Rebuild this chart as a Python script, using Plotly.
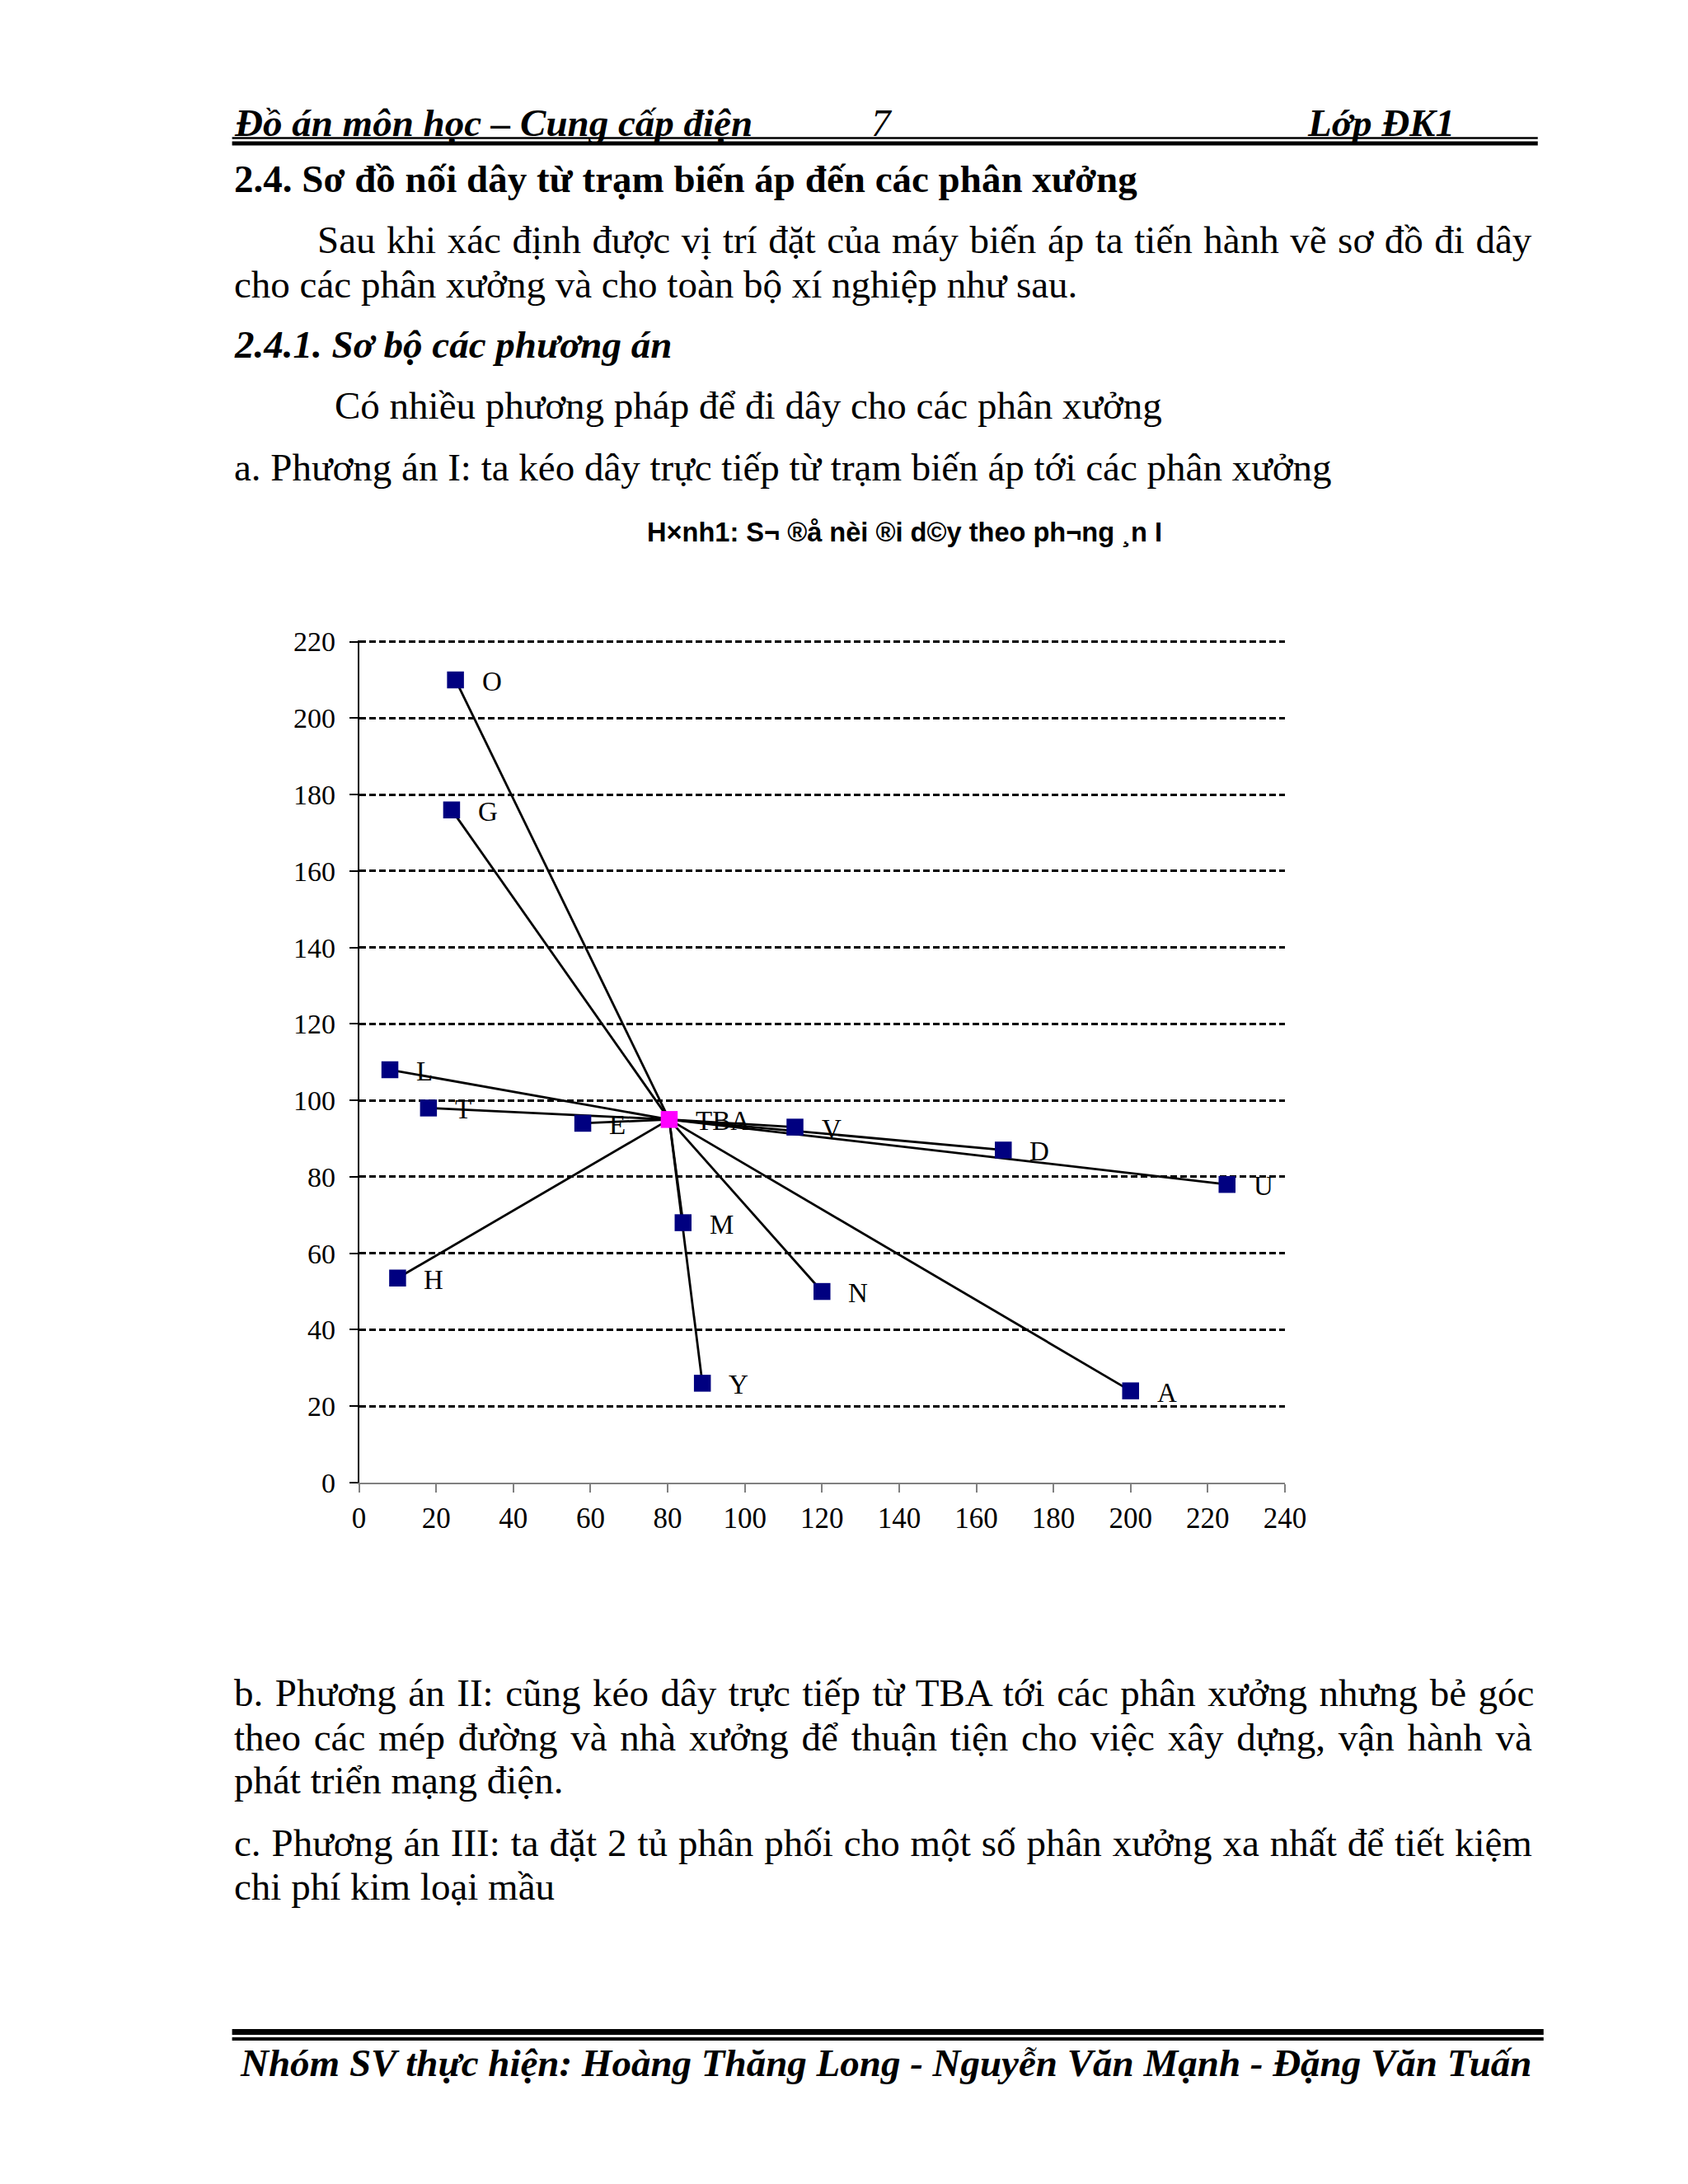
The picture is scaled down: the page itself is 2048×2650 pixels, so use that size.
import plotly.graph_objects as go

# ---------------- data ----------------
names = ["O", "G", "L", "T", "E", "V", "D", "U", "M", "H", "N", "Y", "A"]
xs = [25, 24, 8, 18, 58, 113, 167, 225, 84, 10, 120, 89, 200]
ys = [210, 176, 108, 98, 94, 93, 87, 78, 68, 53.5, 50, 26, 24]
tba_name = "TBA"
tba_x = [80.4]
tba_y = [95]
x_ticks = list(range(0, 241, 20))
y_ticks = list(range(0, 221, 20))

chart_title = "H×nh1: S¬ ®å nèi ®i d©y theo ph¬ng ¸n I"

PAGE_W, PAGE_H = 2048, 2650
OFF = 8  # default body margin of the page
W, H = PAGE_W - 2 * OFF, PAGE_H - 2 * OFF
# calibration of the page layout
SX, OX = 1.0202, -12.5
SY, OY = 1.0137, -17.8


def px(x):
    return (SX * x + OX - OFF) / W


def py(y):
    return 1 - (SY * y + OY - OFF) / H


# wires from substation to each workshop
lx, ly = [], []
for x, y in zip(xs, ys):
    lx += [tba_x[0], x, None]
    ly += [tba_y[0], y, None]

fig = go.Figure()
fig.add_trace(go.Scatter(x=lx, y=ly, mode="lines",
                         line=dict(color="black", width=2.8), hoverinfo="skip"))
fig.add_trace(go.Scatter(x=xs, y=ys, mode="markers",
                         marker=dict(symbol="square", size=20.5, color="#000080"),
                         hoverinfo="skip"))
fig.add_trace(go.Scatter(x=tba_x, y=tba_y, mode="markers",
                         marker=dict(symbol="square", size=20.5, color="#FF00FF"),
                         hoverinfo="skip"))

serif = "Liberation Serif, Times New Roman, serif"
for n, x, y in zip(names + [tba_name], xs + tba_x, ys + tba_y):
    fig.add_annotation(x=x, y=y, xref="x", yref="y", text=n, showarrow=False,
                       xanchor="left", yanchor="middle", xshift=30, yshift=-2,
                       font=dict(family=serif, size=33, color="black"))

fig.update_xaxes(range=[0, 240], tickvals=x_ticks, showgrid=False,
                 domain=[px(437.6), px(1558)], showline=True, linecolor="#808080",
                 linewidth=2, ticks="outside", ticklen=10, tickcolor="#808080",
                 tickwidth=2, zeroline=False, ticklabelstandoff=1,
                 tickfont=dict(family=serif, size=35, color="black"))
fig.update_yaxes(range=[0, 220.4], tickvals=y_ticks, showgrid=True,
                 gridcolor="black", gridwidth=3.3, griddash="8px,4px",
                 domain=[py(1800), py(778)], showline=True, linecolor="black",
                 linewidth=1.5, ticks="outside", ticklen=10, tickcolor="black",
                 tickwidth=1.5, zeroline=False, ticklabelstandoff=10,
                 tickfont=dict(family=serif, size=34, color="black"))

# ---------------- page text ----------------
texts = [
    # (text, x, y, size, bold, italic, anchor, word-spacing px)
    ("Đồ án môn học – Cung cấp điện", 284, 150, 47, True, True, "left", 0),
    ("7", 1070, 150, 47, False, True, "center", 0),
    ("Lớp ĐK1", 1766, 150, 47, True, True, "right", 0),
    ("2.4. Sơ đồ nối dây từ trạm biến áp đến các phân xưởng", 284, 218, 47, True, False, "left", 0),
    ("Sau khi xác định được vị trí đặt của máy biến áp ta tiến hành vẽ sơ đồ đi dây", 385, 292, 47, False, False, "left", 1.8),
    ("cho các phân xưởng và cho toàn bộ xí nghiệp như sau.", 284, 346, 47, False, False, "left", 0),
    ("2.4.1. Sơ bộ các phương án", 284, 419, 47, True, True, "left", 0),
    ("Có nhiều phương pháp để đi dây cho các phân xưởng", 406, 493, 47, False, False, "left", 0),
    ("a. Phương án I: ta kéo dây trực tiếp từ trạm biến áp tới các phân xưởng", 284, 568, 47, False, False, "left", 0),
    ("b. Phương án II: cũng kéo dây trực tiếp từ TBA tới các phân xưởng nhưng bẻ góc", 284, 2055, 47, False, False, "left", 2.8),
    ("theo các mép đường và nhà xưởng để thuận tiện cho việc xây dựng, vận hành và", 284, 2109, 47, False, False, "left", 4.0),
    ("phát triển mạng điện.", 284, 2161, 47, False, False, "left", 0),
    ("c. Phương án III: ta đặt 2 tủ phân phối cho một số phân xưởng xa nhất để tiết kiệm", 284, 2237, 47, False, False, "left", 1.2),
    ("chi phí kim loại mầu", 284, 2290, 47, False, False, "left", 0),
    ("Nhóm SV thực hiện: Hoàng Thăng Long - Nguyễn Văn Mạnh - Đặng Văn Tuấn", 291, 2504, 47, True, True, "left", 0),
]
for t, x, y, s, b, i, a, ws in texts:
    txt = t
    if ws:
        txt = '<span style="word-spacing:%spx">' % ws + txt + "</span>"
    if b:
        txt = "<b>" + txt + "</b>"
    if i:
        txt = "<i>" + txt + "</i>"
    fig.add_annotation(x=px(x), y=py(y), xref="paper", yref="paper", text=txt,
                       showarrow=False, xanchor=a, yanchor="middle",
                       font=dict(family=serif, size=s, color="black"))

fig.add_annotation(x=px(1098), y=py(647), xref="paper", yref="paper",
                   text="<b>" + chart_title + "</b>", showarrow=False,
                   xanchor="center", yanchor="middle",
                   font=dict(family="Liberation Sans, Arial, sans-serif", size=32.6, color="black"))

# header / footer rules
rules = [(169, 2.5, 284, 1864), (175.3, 5, 284, 1864),
         (2466.5, 7, 284, 1871), (2475, 4, 284, 1871)]
for y, w, x0, x1 in rules:
    fig.add_shape(type="line", xref="paper", yref="paper",
                  x0=px(x0), x1=px(x1), y0=py(y), y1=py(y),
                  line=dict(color="black", width=w))

fig.update_layout(width=W, height=H, margin=dict(l=0, r=0, t=0, b=0),
                  paper_bgcolor="white", plot_bgcolor="white", showlegend=False)

fig.write_html("out.html", config={"displayModeBar": False})
